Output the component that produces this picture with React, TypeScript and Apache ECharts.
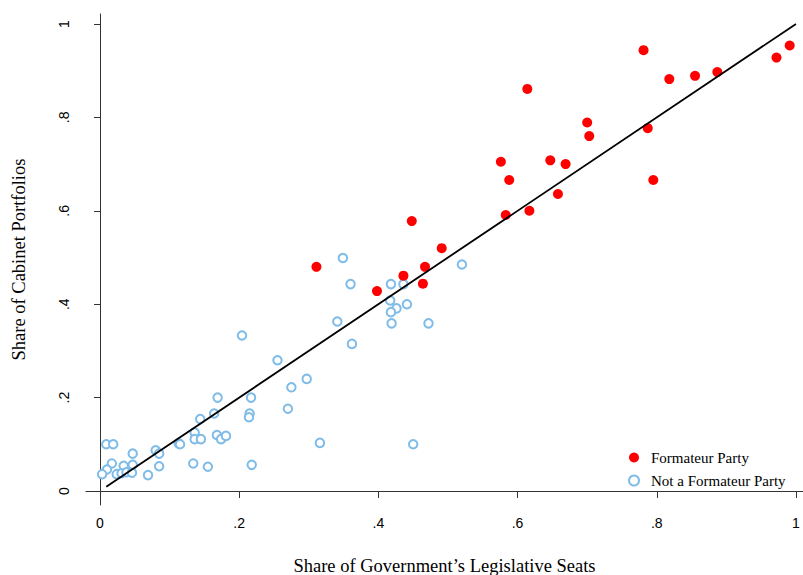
import React, { useEffect, useRef } from "react";
import * as echarts from "echarts";

const tickValues = [0, 0.2, 0.4, 0.6, 0.8, 1];

const formateurX = [0.311, 0.398, 0.436, 0.448, 0.467, 0.464, 0.491, 0.583, 0.617, 0.576, 0.588, 0.614, 0.647, 0.669, 0.658, 0.700, 0.703, 0.781, 0.787, 0.795, 0.818, 0.855, 0.887, 0.972, 0.991];
const formateurY = [0.480, 0.428, 0.461, 0.578, 0.480, 0.444, 0.520, 0.591, 0.600, 0.705, 0.666, 0.861, 0.708, 0.700, 0.636, 0.789, 0.760, 0.944, 0.777, 0.666, 0.882, 0.889, 0.897, 0.928, 0.954];

const otherX = [0.009, 0.019, 0.047, 0.080, 0.085, 0.017, 0.010, 0.003, 0.034, 0.047, 0.024, 0.031, 0.038, 0.046, 0.085, 0.069,
  0.113, 0.115, 0.136, 0.136, 0.145, 0.168, 0.174, 0.181, 0.134, 0.155, 0.218,
  0.144, 0.164, 0.169, 0.217, 0.215, 0.214,
  0.204, 0.255, 0.297, 0.275, 0.270, 0.316, 0.450,
  0.349, 0.360, 0.418, 0.436, 0.417, 0.426, 0.441, 0.418, 0.341, 0.419, 0.472, 0.362, 0.520];
const otherY = [0.100, 0.100, 0.080, 0.087, 0.080, 0.059, 0.046, 0.036, 0.054, 0.056, 0.036, 0.038, 0.040, 0.039, 0.053, 0.034,
  0.102, 0.100, 0.125, 0.111, 0.111, 0.120, 0.111, 0.118, 0.059, 0.052, 0.056,
  0.154, 0.166, 0.200, 0.200, 0.166, 0.158,
  0.333, 0.280, 0.240, 0.222, 0.176, 0.103, 0.100,
  0.499, 0.443, 0.443, 0.443, 0.408, 0.391, 0.400, 0.383, 0.363, 0.359, 0.359, 0.315, 0.485];

const fitX = [0.009, 1.0];
const fitY = [0.009, 1.0];

const fmt = (v: number) => {
  if (v === 0) return "0";
  if (v === 1) return "1";
  return v.toFixed(1).replace(/^0/, "");
};

export default function App() {
  const ref = useRef<HTMLDivElement>(null);
  useEffect(() => {
    if (!ref.current) return;
    const chart = echarts.init(ref.current, undefined, { renderer: "svg" });
    const zip = (xs: number[], ys: number[]) => xs.map((x, i) => [x, ys[i]]);
    const axisCommon = {
      type: "value" as const,
      nameLocation: "middle" as const,
      splitLine: { show: false },
      axisLine: { show: true, lineStyle: { color: "#333", width: 1 } },
      nameTextStyle: { fontFamily: "Liberation Serif", fontSize: 18.5, color: "#000" },
    };
    chart.setOption({
      animation: false,
      backgroundColor: "#fff",
      grid: { left: 86, top: 14, right: 0, bottom: 70, containLabel: false, outerBoundsMode: "none" },
      xAxis: {
        ...axisCommon,
        min: -0.0201,
        max: 1.0101,
        name: "Share of Government\u2019s Legislative Seats",
        nameGap: 51,
        axisTick: { show: true, customValues: tickValues, length: 7, lineStyle: { color: "#333" } },
        axisLabel: { customValues: tickValues, formatter: fmt, margin: 11, fontFamily: "Liberation Sans", fontSize: 14, color: "#000" },
      },
      yAxis: {
        ...axisCommon,
        min: -0.030,
        max: 1.0214,
        name: "Share of Cabinet Portfolios",
        nameGap: 58,
        axisTick: { show: true, customValues: tickValues, length: 6, lineStyle: { color: "#333" } },
        axisLabel: { customValues: tickValues, formatter: fmt, rotate: 90, margin: 15, fontFamily: "Liberation Sans", fontSize: 14, color: "#000" },
      },
      legend: {
        orient: "vertical",
        left: 623,
        top: 445,
        itemGap: 8,
        itemWidth: 10,
        itemHeight: 10,
        textStyle: { fontFamily: "Liberation Serif", fontSize: 15, color: "#000", padding: [0, 0, 0, 7] },
        data: [
          { name: "Formateur Party", icon: "circle" },
          { name: "Not a Formateur Party", icon: "emptyCircle", itemStyle: { borderWidth: 1.8 } },
        ],
      },
      series: [
        {
          name: "Not a Formateur Party",
          type: "scatter",
          symbol: "emptyCircle",
          symbolSize: 8.5,
          itemStyle: { color: "#7FBCE8", borderColor: "#7FBCE8", borderWidth: 1.8, opacity: 1 },
          data: zip(otherX, otherY),
          z: 2,
        },
        {
          name: "Formateur Party",
          type: "scatter",
          symbol: "circle",
          symbolSize: 10,
          itemStyle: { color: "#FF0000", opacity: 1 },
          data: zip(formateurX, formateurY),
          z: 3,
        },
        {
          name: "fit",
          type: "line",
          showSymbol: false,
          symbol: "none",
          lineStyle: { color: "#000", width: 1.8 },
          data: zip(fitX, fitY),
          z: 4,
        },
      ],
    });
    return () => chart.dispose();
  }, []);
  return <div ref={ref} style={{ position: "absolute", left: 0, top: 0, width: 803, height: 575 }} />;
}
